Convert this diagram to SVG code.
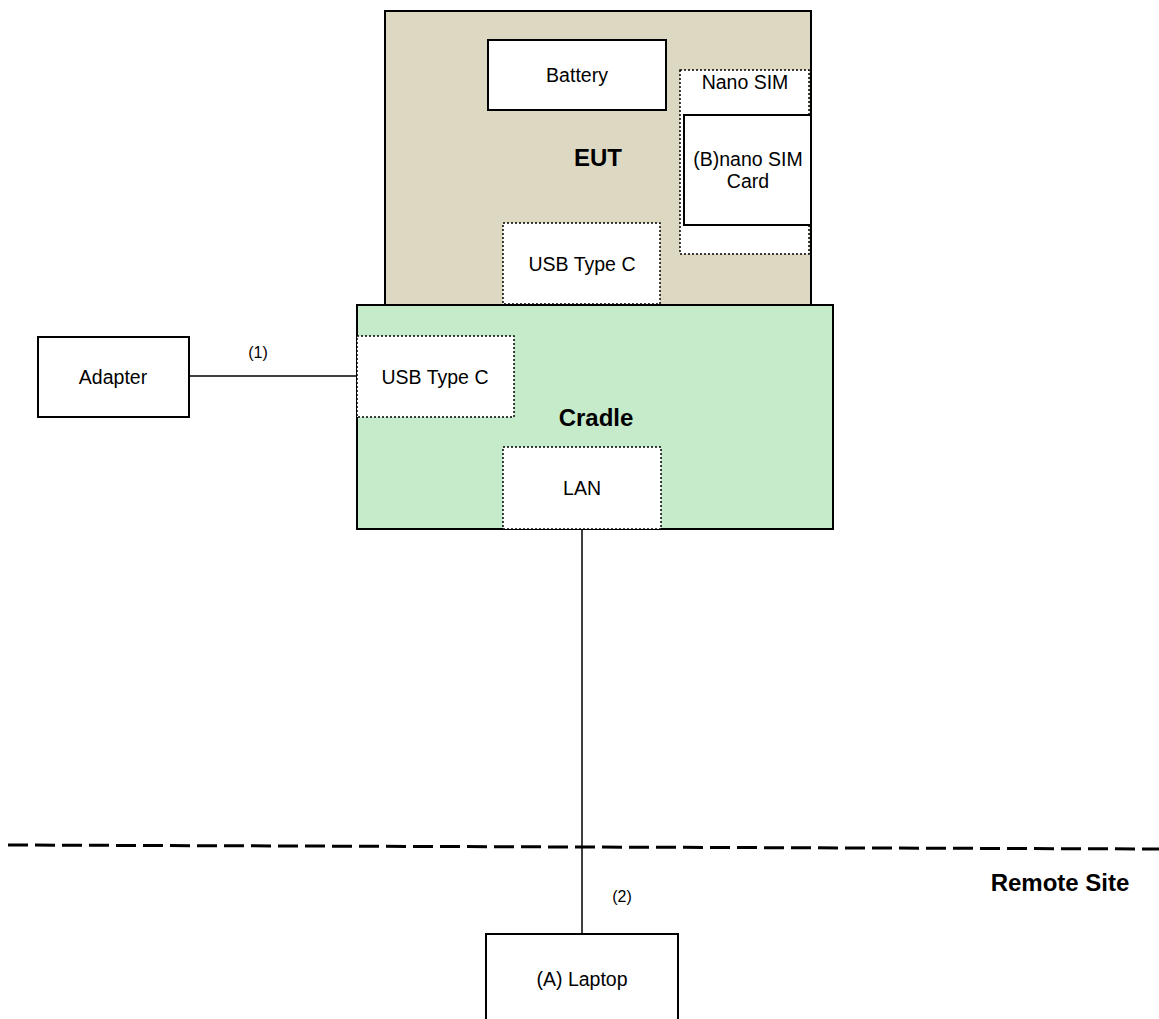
<svg xmlns="http://www.w3.org/2000/svg" width="1159" height="1019" viewBox="0 0 1159 1019">
<style>
.box{fill:#fff;stroke:#000;stroke-width:2}
.dot{fill:#fff;stroke:#000;stroke-width:1.5;stroke-dasharray:2 2}
.t{font-family:"Liberation Sans",Arial,sans-serif;font-size:19.5px;fill:#000;text-anchor:middle}
.s{font-family:"Liberation Sans",Arial,sans-serif;font-size:16px;fill:#000;text-anchor:middle}
.b{font-family:"Liberation Sans",Arial,sans-serif;font-size:24px;font-weight:bold;fill:#000;text-anchor:middle}
.ln{stroke:#000;stroke-width:1.5;fill:none}
</style>
<rect width="1159" height="1019" fill="#fff"/>
<g id="eut">
<rect x="385" y="11" width="426" height="294" fill="#ddd8c2" stroke="#000" stroke-width="2"/>
<text class="b" x="598" y="166">EUT</text>
</g>
<g id="battery"><rect class="box" x="488" y="40" width="178" height="70"/><text class="t" x="577" y="82">Battery</text></g>
<g id="nanosim"><rect class="dot" x="680" y="70" width="129" height="184"/><text class="t" x="745" y="89">Nano SIM</text></g>
<g id="simcard"><rect class="box" x="684" y="115" width="127" height="110"/><text class="t" x="748" y="166">(B)nano SIM</text><text class="t" x="748" y="188">Card</text></g>
<g id="eut-usb"><rect class="dot" x="503" y="223" width="157" height="81"/><text class="t" x="582" y="271">USB Type C</text></g>
<g id="cradle">
<rect x="357" y="305" width="476" height="224" fill="#c6ebcb" stroke="#000" stroke-width="2"/>
<text class="b" x="596" y="426">Cradle</text>
</g>
<g id="cradle-usb"><rect class="dot" x="357" y="336" width="157" height="81"/><text class="t" x="435" y="384">USB Type C</text></g>
<g id="lan"><rect class="dot" x="503" y="447" width="158" height="82"/><text class="t" x="582" y="495">LAN</text></g>
<g id="adapter"><rect class="box" x="38" y="337" width="151" height="80"/><text class="t" x="113" y="384">Adapter</text></g>
<g id="laptop"><rect class="box" x="486" y="934" width="192" height="100"/><text class="t" x="582" y="986">(A) Laptop</text></g>
<g id="connectors">
<line class="ln" x1="189" y1="376" x2="357" y2="376"/>
<text class="s" x="258" y="358">(1)</text>
<line class="ln" x1="582" y1="529" x2="582" y2="934"/>
<text class="s" x="622" y="902">(2)</text>
<line x1="8" y1="845" x2="1159" y2="849" stroke="#000" stroke-width="3" stroke-dasharray="20 7"/>
</g>
<text x="1060" y="891" font-family="'Liberation Sans',Arial,sans-serif" font-size="24" font-weight="bold" text-anchor="middle">Remote Site</text>
</svg>
